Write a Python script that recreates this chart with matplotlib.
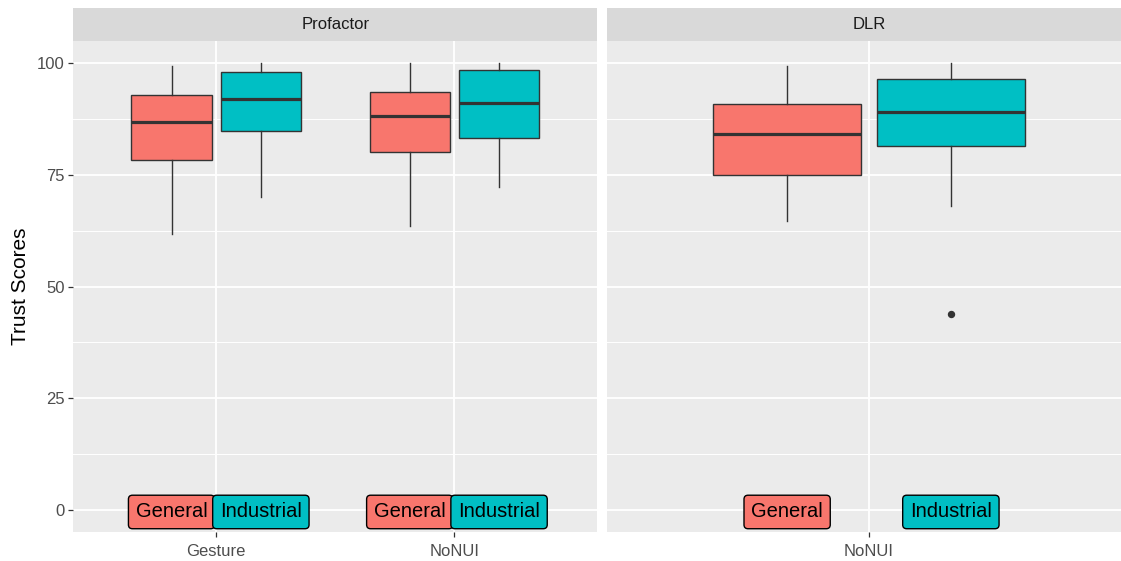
import matplotlib
matplotlib.use("Agg")
import matplotlib.pyplot as plt
from matplotlib.ticker import FixedLocator
from matplotlib.transforms import ScaledTranslation

plt.rcParams["font.family"] = ["Liberation Sans", "DejaVu Sans"]

# Facets and their x categories
panels = ["Profactor", "DLR"]
panel_conditions = [["Gesture", "NoNUI"], ["NoNUI"]]
groups = ["General", "Industrial"]
group_colors = ["#F8766D", "#00BFC4"]

# Box statistics, ordered as (Profactor, Gesture), (Profactor, NoNUI), (DLR, NoNUI)
general_lo = [61.7, 63.6, 64.6]
general_q1 = [78.4, 80.1, 74.9]
general_med = [86.9, 88.2, 84.1]
general_q3 = [92.9, 93.5, 91.0]
general_hi = [99.4, 100.0, 99.4]
general_out = [[], [], []]

industrial_lo = [70.0, 72.2, 68.1]
industrial_q1 = [84.9, 83.3, 81.4]
industrial_med = [92.1, 91.2, 89.2]
industrial_q3 = [98.1, 98.4, 96.4]
industrial_hi = [100.0, 100.0, 100.0]
industrial_out = [[], [], [43.8]]

label_y = 0
y_ticks = [0, 25, 50, 75, 100]
y_minor = [12.5, 37.5, 62.5, 87.5]

stats_by_group = {
    "General": (general_lo, general_q1, general_med, general_q3, general_hi, general_out),
    "Industrial": (industrial_lo, industrial_q1, industrial_med, industrial_q3, industrial_hi, industrial_out),
}

W, H, DPI = 1121, 561, 100
fig = plt.figure(figsize=(W / DPI, H / DPI), dpi=DPI)
fig.patch.set_facecolor("white")

panel_left_px = [73.3, 607.0]
panel_w_px = 524.0
panel_top_px, panel_bot_px = 41.0, 532.3
strip_top_px = 8.0

dodge = 0.1875
box_w = 0.3375
edge = "#333333"

idx = 0
for p, (pname, conds) in enumerate(zip(panels, panel_conditions)):
    x0 = panel_left_px[p] / W
    ax = fig.add_axes([x0, (H - panel_bot_px) / H, panel_w_px / W,
                       (panel_bot_px - panel_top_px) / H])
    ax.set_facecolor("#EBEBEB")
    for s in ax.spines.values():
        s.set_visible(False)
    n = len(conds)
    positions = list(range(1, n + 1))
    ax.set_xlim(0.4, n + 0.6)
    ax.set_ylim(-5, 105)
    ax.set_xticks(positions)
    ax.set_xticklabels(conds)
    ax.yaxis.set_major_locator(FixedLocator(y_ticks))
    ax.yaxis.set_minor_locator(FixedLocator(y_minor))
    ax.grid(which="major", color="white", linewidth=1.3)
    ax.grid(which="minor", axis="y", color="white", linewidth=0.7)
    ax.set_axisbelow(True)
    ax.tick_params(axis="both", which="major", length=3.6, width=0.9,
                   color=edge, labelsize=12, labelcolor="#4D4D4D", pad=2.5)
    ax.tick_params(axis="x", which="major", pad=4.5)
    ax.tick_params(axis="y", which="minor", length=0)
    if p == 0:
        ax.set_ylabel("Trust Scores", fontsize=15, color="black", labelpad=5)
    else:
        ax.tick_params(axis="y", which="both", left=False, labelleft=False)

    label_trans = ax.transData + ScaledTranslation(0, -2 / DPI, fig.dpi_scale_trans)
    for k in range(n):
        for g, (gname, col) in enumerate(zip(groups, group_colors)):
            lo, q1, med, q3, hi, out = stats_by_group[gname]
            st = [{"whislo": lo[idx + k], "q1": q1[idx + k], "med": med[idx + k],
                   "q3": q3[idx + k], "whishi": hi[idx + k], "fliers": out[idx + k]}]
            xpos = positions[k] + (g - 0.5) * 2 * dodge
            ax.bxp(st, positions=[xpos], widths=box_w, patch_artist=True,
                   showcaps=False, manage_ticks=False,
                   boxprops=dict(facecolor=col, edgecolor=edge, linewidth=1.0),
                   whiskerprops=dict(color=edge, linewidth=1.0),
                   medianprops=dict(color=edge, linewidth=2.3, solid_capstyle="butt"),
                   flierprops=dict(marker="o", markerfacecolor=edge,
                                   markeredgecolor=edge, markersize=4.3))
            ax.text(xpos, label_y, gname, ha="center", va="center",
                    fontsize=14.5, color="black", zorder=5, transform=label_trans,
                    bbox=dict(boxstyle="round,pad=0.36,rounding_size=0.2",
                              facecolor=col, edgecolor="black", linewidth=1.0))
    idx += n

    # facet strip
    sax = fig.add_axes([x0, (H - panel_top_px) / H, panel_w_px / W,
                        (panel_top_px - strip_top_px) / H])
    sax.set_facecolor("#D9D9D9")
    sax.set_xticks([])
    sax.set_yticks([])
    for s in sax.spines.values():
        s.set_visible(False)
    sax.text(0.5, 0.5, pname, ha="center", va="center", fontsize=12,
             color="#1A1A1A", transform=sax.transAxes)

fig.savefig("out.png", dpi=DPI)
